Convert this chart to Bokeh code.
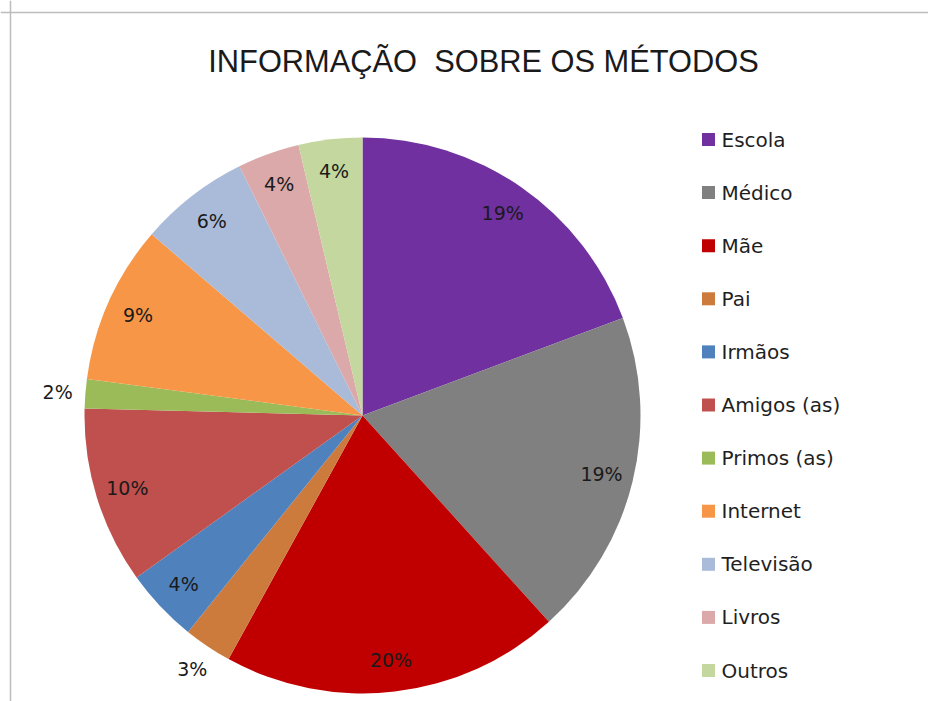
import math
from bokeh.plotting import figure
from bokeh.models import Range1d, Span, Label, ColumnDataSource
from bokeh.core.properties import value
from bokeh.embed import file_html
from bokeh.resources import INLINE

title_text = "INFORMAÇÃO\u00a0 SOBRE OS MÉTODOS"
categories = ["Escola", "Médico", "Mãe", "Pai", "Irmãos", "Amigos (as)",
              "Primos (as)", "Internet", "Televisão", "Livros", "Outros"]
values = [19.3, 19.0, 19.7, 2.8, 4.3, 10.3, 1.7, 9.2, 6.4, 3.6, 3.7]
colors = ["#7030A0", "#808080", "#C00000", "#CD7B3C", "#4F81BD", "#C0504D",
          "#9BBB59", "#F79646", "#AABAD9", "#DBA9A9", "#C4D79E"]

W, H = 928, 701
p = figure(width=W, height=H, output_backend="svg", toolbar_location=None,
           x_range=Range1d(0, W), y_range=Range1d(0, H),
           min_border=0, min_border_left=0, min_border_right=0,
           min_border_top=0, min_border_bottom=0)
p.axis.visible = False
p.grid.visible = False
p.outline_line_color = None
p.background_fill_color = "white"

# chart-area border (top and left edges visible in reference)
p.add_layout(Span(location=H - 12, dimension="width", line_color="#BDBDBD", line_width=1.5))
p.add_layout(Span(location=10, dimension="height", line_color="#BDBDBD", line_width=1.5))

cx, cy, R = 362, 286, 278
total = sum(values)
starts, ends, lx, ly, labels = [], [], [], [], []
cum = 0.0
for v in values:
    a0 = math.pi / 2 - 2 * math.pi * (cum + v) / total
    a1 = math.pi / 2 - 2 * math.pi * cum / total
    starts.append(a0)
    ends.append(a1)
    mid = (a0 + a1) / 2
    r = R * 1.10 if v / total * 100 < 3 else R * 0.885
    lx.append(cx + r * math.cos(mid))
    ly.append(cy + r * math.sin(mid))
    labels.append(f"{round(v / total * 100)}%")
    cum += v

src = ColumnDataSource(dict(start=starts, end=ends, color=colors, lx=lx, ly=ly,
                            label=labels, cat=categories))
p.wedge(x=cx, y=cy, radius=R, start_angle="start", end_angle="end",
        fill_color="color", line_color=None, source=src)
p.text(x="lx", y="ly", text="label", source=src, text_align="center",
       text_baseline="middle", text_font=value("DejaVu Sans"),
       text_font_size="19px", text_color="#1A1A1A")

# legend
step = 53.1
leg_y = [562 - i * step for i in range(len(categories))]
lsrc = ColumnDataSource(dict(y=leg_y, color=colors, cat=categories,
                             xs=[708] * len(categories), xt=[721] * len(categories)))
p.scatter(x="xs", y="y", marker="square", size=13, fill_color="color",
          line_color=None, source=lsrc)
p.text(x="xt", y="y", text="cat", source=lsrc, text_align="left",
       text_baseline="middle", text_font=value("DejaVu Sans"),
       text_font_size="20px", text_color="#1F1F1F")

p.add_layout(Label(x=483, y=640, text=title_text, text_align="center",
                   text_baseline="middle", text_font="Liberation Sans",
                   text_font_size="30.8px", text_color="#1A1A1A"))

open("out.html", "w").write(file_html(p, INLINE))
